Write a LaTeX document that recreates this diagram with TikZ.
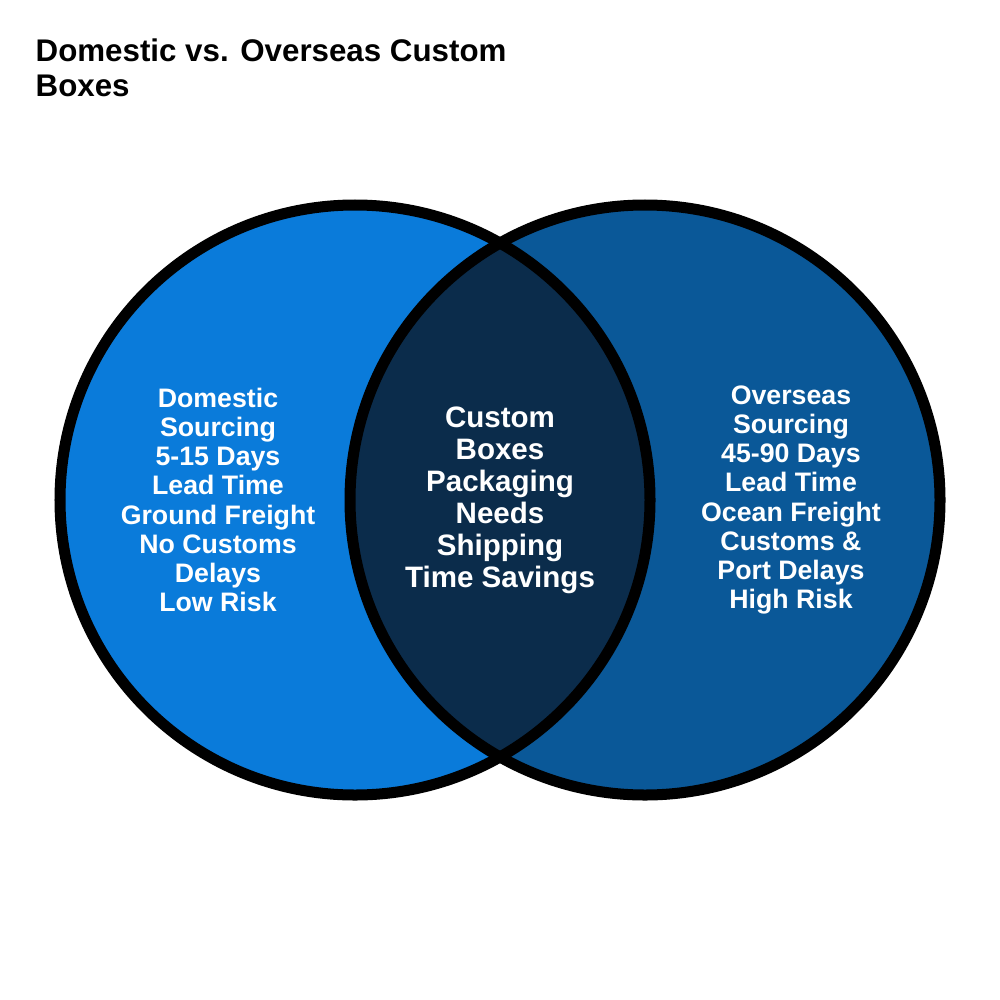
\documentclass[tikz,border=0pt]{standalone}
\usepackage{fontspec}
\setmainfont{Liberation Sans}
\usetikzlibrary{positioning}
\definecolor{domblue}{HTML}{0A7BDA}
\definecolor{ovsblue}{HTML}{0A5898}
\definecolor{midblue}{HTML}{0B2C4B}
\tikzset{
  ring/.style={draw=black, line width=1.1mm},
  label/.style={text=white, align=center, font=\bfseries\fontsize{7.6}{8.3}\selectfont},
  midlabel/.style={text=white, align=center, font=\bfseries\fontsize{8.4}{9.1}\selectfont}
}
\begin{document}
\begin{tikzpicture}[x=0.01cm, y=-0.01cm]
\useasboundingbox (0,0) rectangle (1000,1000);
\fill[white] (0,0) rectangle (1000,1000);
%Title:
\node (title) [anchor=north west, align=left, inner sep=0pt,
  font=\bfseries\fontsize{8.9}{9.9}\selectfont] at (35,38)
  {Domestic vs. Overseas Custom\\Boxes};
%Circles:
\coordinate (L) at (355,500);
\coordinate (R) at (645,500);
\fill[domblue] (L) circle (295);
\fill[ovsblue] (R) circle (295);
\begin{scope}
  \clip (L) circle (295);
  \fill[midblue] (R) circle (295);
\end{scope}
\draw[ring] (L) circle (295);
\draw[ring] (R) circle (295);
%Texts:
\node (dom) [label] at (218,500) {Domestic\\Sourcing\\5-15 Days\\Lead Time\\Ground Freight\\No Customs\\Delays\\Low Risk};
\node (both) [midlabel] at (500,500) {Custom\\Boxes\\Packaging\\Needs\\Shipping\\Time Savings};
\node (ovs) [label] at (791,500) {Overseas\\Sourcing\\45-90 Days\\Lead Time\\Ocean Freight\\Customs \&\\Port Delays\\High Risk};
\end{tikzpicture}
\end{document}
